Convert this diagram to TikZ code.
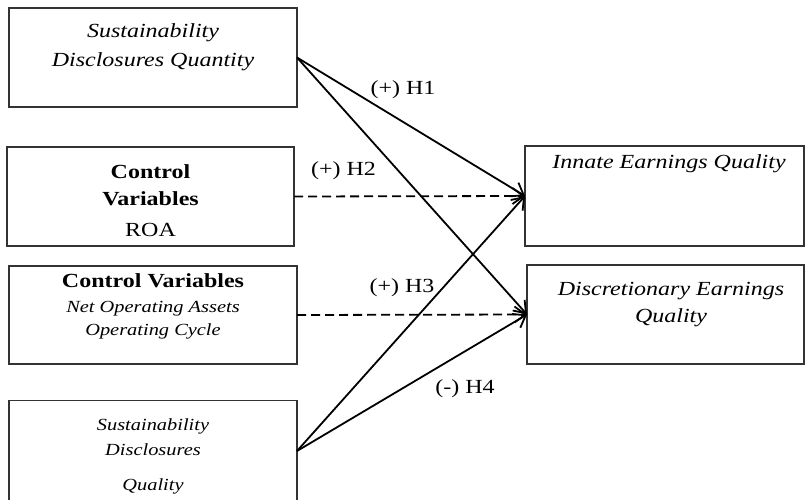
\documentclass[tikz,border=0pt]{standalone}
\usepackage{fontspec}
\setmainfont{Liberation Serif}[FakeStretch=1.2]
\usetikzlibrary{arrows.meta}
\begin{document}
\begin{tikzpicture}[x=1pt,y=-1pt,
  box/.style={draw=black!80, line width=1.4pt, inner sep=0pt, outer sep=0pt},
  big/.style={anchor=base, inner sep=0pt, font=\fontsize{20}{24}\selectfont},
  bigi/.style={big, font=\fontsize{20}{24}\selectfont\itshape},
  bigb/.style={big, font=\fontsize{20}{24}\selectfont\bfseries},
  smli/.style={anchor=base, inner sep=0pt, font=\fontsize{17}{20}\selectfont\itshape},
  link/.style={line width=1.8pt, -{Straight Barb[length=11pt,width=16pt,line width=1.8pt]}},
  dlink/.style={link, dash pattern=on 9pt off 5pt}]
\useasboundingbox (0,0) rectangle (805,500);
% boxes
\node[box, minimum width=288pt, minimum height=99pt] (sdq) at (153,57.5) {};
\node[box, minimum width=287pt, minimum height=99pt] (roa) at (150.5,196.5) {};
\node[box, minimum width=288pt, minimum height=98pt] (noa) at (153,315) {};
\node[box, minimum width=288pt, minimum height=101pt] (sdl) at (153,451) {};
\node[box, minimum width=279pt, minimum height=100pt] (ieq) at (664.5,196) {};
\node[box, minimum width=277pt, minimum height=99pt] (deq) at (665.5,314.5) {};
% texts
\node[bigi] (t1a) at (153,37.5) {Sustainability};
\node[bigi] (t1b) at (153,66.5) {Disclosures Quantity};
\node[bigb] (t2a) at (150.5,178) {Control};
\node[bigb] (t2b) at (150.5,205) {Variables};
\node[big]  (t2c) at (150.5,236) {ROA};
\node[bigb] (t3a) at (153,287) {Control Variables};
\node[smli] (t3b) at (153,312) {Net Operating Assets};
\node[smli] (t3c) at (153,335) {Operating Cycle};
\node[smli] (t4a) at (153,430) {Sustainability};
\node[smli] (t4b) at (153,455) {Disclosures};
\node[smli] (t4c) at (153,490) {Quality};
\node[bigi] (t5a) at (669,168) {Innate Earnings Quality};
\node[bigi] (t6a) at (671,295) {Discretionary Earnings};
\node[bigi] (t6b) at (671,322) {Quality};
% hypothesis labels
\node[big] (h1) at (403,95) {(+) H1};
\node[big] (h2) at (343.5,175) {(+) H2};
\node[big] (h3) at (402,292) {(+) H3};
\node[big] (h4) at (465,393) {(-) H4};
% connectors
\draw[link] (sdq.east) -- (ieq.west);
\draw[link] (sdq.east) -- (deq.west);
\draw[dlink] (roa.east) -- (ieq.west);
\draw[dlink] (noa.east) -- (deq.west);
\draw[link] (sdl.east) -- (ieq.west);
\draw[link] (sdl.east) -- (deq.west);
\end{tikzpicture}
\end{document}
